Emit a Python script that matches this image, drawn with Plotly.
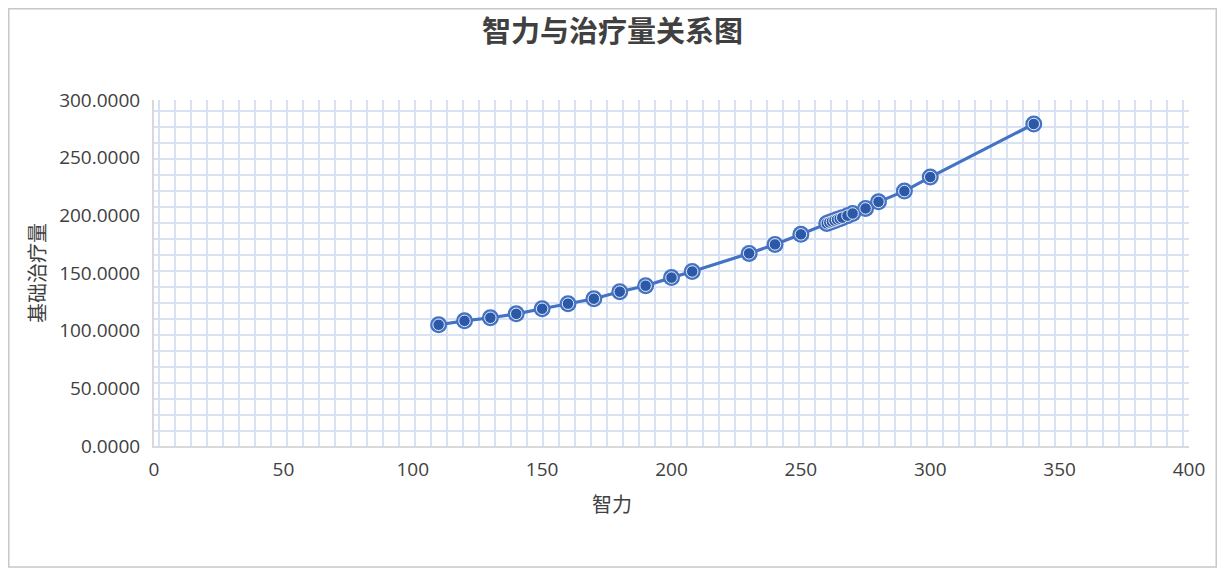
import plotly.graph_objects as go

# ---- data ----
intelligence = [110, 120, 130, 140, 150, 160, 170, 180, 190, 200, 208, 230, 240, 250,
                260, 261, 262, 263, 264, 265, 266, 268, 270, 275, 280, 290, 300, 340]
base_heal = [105.1, 108.5, 111.2, 114.6, 119.0, 123.4, 127.7, 133.8, 139.0, 146.0, 151.3,
             167.0, 174.8, 183.5, 193.0, 193.8, 194.6, 195.4, 196.3, 197.1, 198.0, 199.7,
             201.6, 206.0, 211.7, 221.0, 233.2, 279.2]
x_ticks = [0, 50, 100, 150, 200, 250, 300, 350, 400]
y_ticks = [0, 50, 100, 150, 200, 250, 300]

title_text = "智力与治疗量关系图"
x_title = "智力"
y_title = "基础治疗量"

# ---- layout constants (figure sits at an 8px page offset) ----
OFF = 8
W, H = 1209, 566
L, R, T, B = 146, 28, 92, 128
pw, ph = W - L - R, H - T - B
xr, yr = (0, 400), (0, 300)
xs = pw / (xr[1] - xr[0])
ys = ph / (yr[1] - yr[0])
cell = 16  # graph-paper style grid spacing in px
grid_x0 = 5 / xs
grid_y0 = 15 / ys

font_cjk = "Noto Sans CJK SC"
font_num = "Open Sans"
text_col = "#404040"
grid_col = "#d9e2f3"

fig = go.Figure()
fig.add_trace(go.Scatter(
    x=intelligence, y=base_heal, mode="lines+markers",
    line=dict(color="#4472c4", width=3.2),
    marker=dict(size=17, color="#4472c4", line=dict(width=0)),
    hoverinfo="skip", showlegend=False,
))
fig.add_trace(go.Scatter(
    x=intelligence, y=base_heal, mode="markers",
    marker=dict(size=11.5, color="#2c58a8", line=dict(width=1, color="#e8eef8")),
    showlegend=False,
))

fig.update_layout(
    width=W, height=H,
    margin=dict(l=L, r=R, t=T, b=B),
    paper_bgcolor="white", plot_bgcolor="white",
    title=dict(text="<b>" + title_text + "</b>", x=0.5, xanchor="center",
               y=1 - (32 - OFF) / H, yanchor="middle",
               font=dict(family=font_cjk, size=29, color=text_col)),
    xaxis=dict(
        range=list(xr), tickmode="array", tickvals=x_ticks,
        showgrid=False, zeroline=False,
        showline=True, linecolor="#d9d9d9", linewidth=2,
        ticks="", ticklabelstandoff=5,
        tickfont=dict(family=font_num, size=19, color=text_col),
        minor=dict(showgrid=True, gridcolor=grid_col, gridwidth=2,
                   tick0=grid_x0, dtick=cell / xs, ticks=""),
    ),
    yaxis=dict(
        range=list(yr), tickmode="array", tickvals=y_ticks, tickformat=".4f",
        showgrid=False, zeroline=False,
        showline=True, linecolor="#d9d9d9", linewidth=2,
        ticks="", ticklabelstandoff=8,
        tickfont=dict(family=font_num, size=19, color=text_col),
        minor=dict(showgrid=True, gridcolor=grid_col, gridwidth=2,
                   tick0=grid_y0, dtick=cell / ys, ticks=""),
        title=dict(text=y_title, standoff=8,
                   font=dict(family=font_cjk, size=20, color=text_col)),
    ),
    annotations=[dict(
        text=x_title, xref="paper", yref="paper",
        x=(612 - OFF - L) / pw, y=(H - B - (503 - OFF)) / ph,
        xanchor="center", yanchor="middle", showarrow=False,
        font=dict(family=font_cjk, size=20, color=text_col),
    )],
    shapes=[dict(
        type="rect", xref="paper", yref="paper",
        x0=(0.75 - L) / pw, x1=(W - 0.75 - L) / pw,
        y0=(H - B - (567 - OFF)) / ph, y1=(H - B - 0.75) / ph,
        line=dict(color="#c8c8c8", width=1.5), fillcolor="rgba(0,0,0,0)",
        layer="below",
    )],
)

fig.write_html("out.html")
